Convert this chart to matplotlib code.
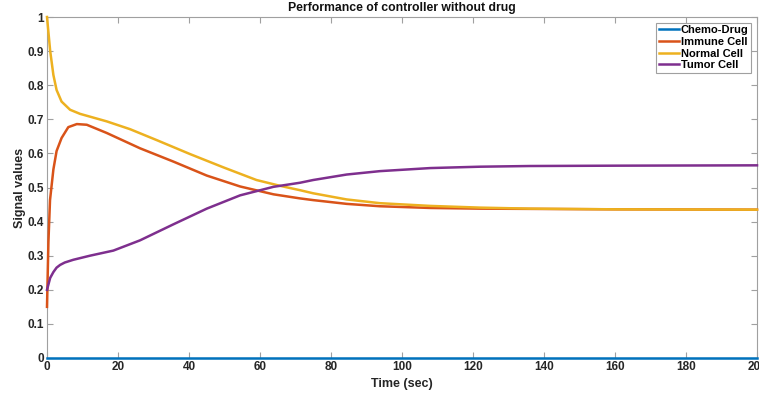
import matplotlib.pyplot as plt
from matplotlib import font_manager

# values
t_drug = [0, 200]
v_drug = [0, 0]

t_immune = [0, 0.4, 0.85, 1.8, 2.7, 4.1, 6.0, 8.4, 11.2, 16.8, 26.2, 35.6, 45, 54.4,
            63.8, 71.3, 75, 84.4, 93.8, 108, 122, 160, 200]
v_immune = [0.15, 0.34, 0.463, 0.553, 0.607, 0.645, 0.677, 0.686, 0.684, 0.66, 0.615,
            0.576, 0.535, 0.503, 0.48, 0.468, 0.463, 0.452, 0.445, 0.440, 0.438, 0.436, 0.435]

t_normal = [0, 0.9, 1.8, 2.7, 4.1, 6.5, 9.3, 16.8, 23.4, 30.9, 40.3, 49.7, 59, 65.6,
            71.3, 75, 84.4, 93.8, 108, 122, 136, 160, 200]
v_normal = [1.0, 0.90, 0.83, 0.786, 0.752, 0.728, 0.716, 0.694, 0.671, 0.639, 0.598,
            0.559, 0.522, 0.505, 0.492, 0.483, 0.465, 0.454, 0.446, 0.441, 0.438, 0.436, 0.435]

t_tumor = [0, 0.9, 1.8, 2.7, 3.7, 5, 7.4, 12.1, 18.7, 26.2, 35.6, 45, 54.4, 63.8, 71.3,
           75, 84.4, 93.8, 108, 122, 136, 160, 200]
v_tumor = [0.2, 0.235, 0.252, 0.265, 0.273, 0.28, 0.288, 0.30, 0.315, 0.345, 0.392, 0.438,
           0.477, 0.502, 0.514, 0.522, 0.538, 0.548, 0.557, 0.561, 0.563, 0.564, 0.565]

labels = ['Chemo-Drug', 'Immune Cell', 'Normal Cell', 'Tumor Cell']
colors = ['#0072BD', '#D95319', '#EDB120', '#7E2F8E']

names = {f.name for f in font_manager.fontManager.ttflist}
tick_font = 'Liberation Sans Narrow' if 'Liberation Sans Narrow' in names else 'Liberation Sans'
plt.rcParams['font.family'] = ['Liberation Sans', 'DejaVu Sans']

fig = plt.figure(figsize=(7.59, 3.94), dpi=100)
ax = fig.add_axes([47 / 759, 36 / 394, 710 / 759, 341 / 394])

series = [(t_drug, v_drug), (t_immune, v_immune), (t_normal, v_normal), (t_tumor, v_tumor)]
for (t, v), lab, c in zip(series, labels, colors):
    ax.plot(t, v, color=c, lw=1.8, label=lab, clip_on=False, zorder=3,
            solid_joinstyle='round')

ax.set_xlim(0, 200)
ax.set_ylim(0, 1)
ax.set_xticks(range(0, 201, 20))
ax.set_yticks([i / 10 for i in range(11)])
ax.set_yticklabels(['0', '0.1', '0.2', '0.3', '0.4', '0.5', '0.6', '0.7', '0.8', '0.9', '1'])

for s in ax.spines.values():
    s.set_color('#a0a0a0')
    s.set_linewidth(0.8)
ax.tick_params(direction='in', length=4, width=0.8, color='#a0a0a0',
               top=True, right=True, labelsize=8.5, pad=2, labelcolor='#262626')
for lbl in ax.get_xticklabels() + ax.get_yticklabels():
    lbl.set_fontfamily(tick_font)
    lbl.set_fontweight('bold')

ax.set_title('Performance of controller without drug', fontsize=8.8, fontweight='bold',
             color='#111111', pad=4)
ax.set_xlabel('Time (sec)', fontsize=9, fontweight='bold', color='#262626', labelpad=4)
ax.set_ylabel('Signal values', fontsize=9, fontweight='bold', color='#262626', labelpad=1)

leg = ax.legend(loc='upper right', prop={'weight': 'bold', 'size': 8},
                fancybox=False, handlelength=1.8, handletextpad=0.2, borderpad=0.25,
                labelspacing=0.15, borderaxespad=0.5, framealpha=1)
leg.get_frame().set_edgecolor('#a0a0a0')
leg.get_frame().set_linewidth(0.8)
for line in leg.get_lines():
    line.set_linewidth(1.8)

fig.savefig('out.png', dpi=100)
